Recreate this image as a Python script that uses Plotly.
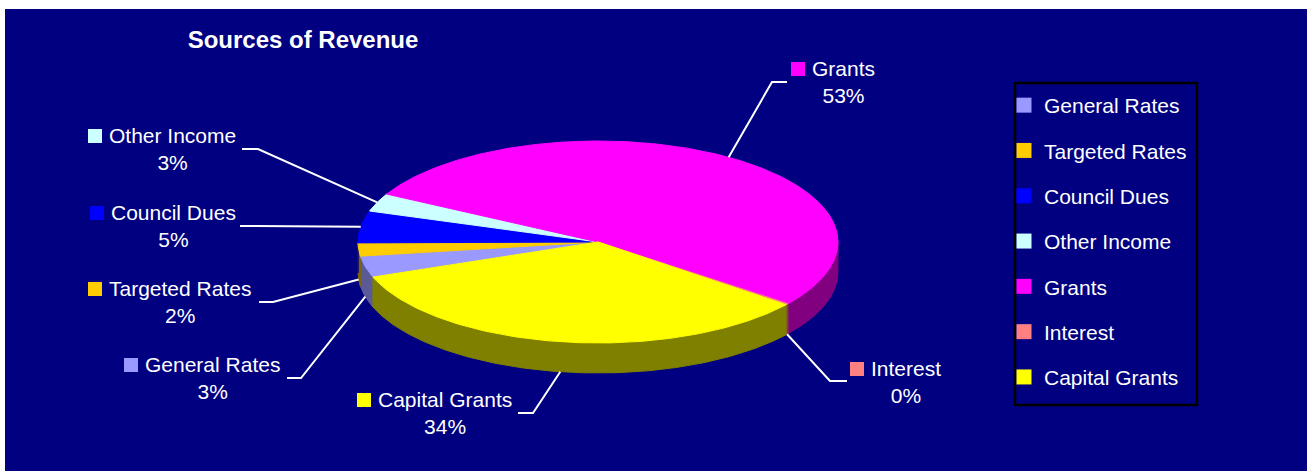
import numpy as np
import plotly.graph_objects as go

# ---------------- data ----------------
CATEGORIES = ["General Rates", "Targeted Rates", "Council Dues", "Other Income",
              "Grants", "Interest", "Capital Grants"]
VALUES = [3.4, 2.1, 5.1, 2.9, 52.6, 0.2, 33.7]
COLORS = ["#9999FF", "#FFCC00", "#0000FF", "#CCFFFF", "#FF00FF", "#FF8080", "#FFFF00"]
SIDE_COLORS = ["#5A5A99", "#806600", "#000080", "#668080", "#800080", "#804040", "#808000"]
TITLE = "Sources of Revenue"

# ---------------- layout geometry (pixels) ----------------
W, H = 1307, 471
CX, CY, RX, RY, DEPTH = 598, 242, 240, 101, 30
START_ANGLE = 159.7  # screen degrees, clockwise from 3 o'clock

LABEL_LEFT = [143, 107, 109, 107, 810, 869, 376]
LABEL_TOP_Y = [364, 288, 212, 135, 68, 368, 399]
STUB_START = [(287, 378), (259, 302), (240, 226), (242, 149), (787, 82), (847, 381), (518, 413)]
STUB_KNEE = [(301, 378), (273, 302), (255, 226), (258, 149), (772, 82), (830, 381), (533, 413)]
LEGEND_BOX = (1015, 83, 1197, 405)

FONT = "Arial, Liberation Sans, sans-serif"
NAVY = "#000080"


def ell(theta_deg, dy=0.0):
    t = np.radians(theta_deg)
    return CX + RX * np.cos(t), CY + RY * np.sin(t) + dy


total = float(sum(VALUES))
spans = [v / total * 360.0 for v in VALUES]
starts = [START_ANGLE + sum(spans[:i]) for i in range(len(VALUES))]

fig = go.Figure()

# side walls (front half of the ellipse)
for i, (a0, sp) in enumerate(zip(starts, spans)):
    a1 = a0 + sp
    for f0, f1 in [(0, 180), (360, 540)]:
        lo, hi = max(a0, f0), min(a1, f1)
        if hi > lo:
            n = max(3, int((hi - lo) * 2))
            th = np.linspace(lo, hi, n)
            xt, yt = ell(th)
            xb, yb = ell(th[::-1], DEPTH)
            fig.add_trace(go.Scatter(
                x=np.concatenate([xt, xb, xt[:1]]), y=np.concatenate([yt, yb, yt[:1]]),
                mode="lines", fill="toself", fillcolor=SIDE_COLORS[i],
                line=dict(color=SIDE_COLORS[i], width=1),
                hoverinfo="skip", showlegend=False))

# top faces
for i, (a0, sp) in enumerate(zip(starts, spans)):
    n = max(3, int(sp * 2))
    th = np.linspace(a0, a0 + sp, n)
    xa, ya = ell(th)
    fig.add_trace(go.Scatter(
        x=np.concatenate([[CX], xa, [CX]]), y=np.concatenate([[CY], ya, [CY]]),
        mode="lines", fill="toself", fillcolor=COLORS[i],
        line=dict(color=COLORS[i], width=1),
        name=CATEGORIES[i], text=f"{CATEGORIES[i]}: {round(VALUES[i])}%",
        hoverinfo="text", showlegend=False))

# leader lines
for i, (a0, sp) in enumerate(zip(starts, spans)):
    mid = a0 + sp / 2
    ex, ey = ell(mid)
    if np.sin(np.radians(mid)) > 0:
        ey += DEPTH
    fig.add_trace(go.Scatter(
        x=[STUB_START[i][0], STUB_KNEE[i][0], ex], y=[STUB_START[i][1], STUB_KNEE[i][1], ey],
        mode="lines", line=dict(color="white", width=2),
        hoverinfo="skip", showlegend=False))

# label colour squares
fig.add_trace(go.Scatter(
    x=[x - 12 for x in LABEL_LEFT], y=[y + 1 for y in LABEL_TOP_Y],
    mode="markers", marker=dict(symbol="square", size=14, color=COLORS, line=dict(width=0)),
    hoverinfo="skip", showlegend=False))

# labels
for i, cat in enumerate(CATEGORIES):
    fig.add_annotation(
        x=LABEL_LEFT[i], y=LABEL_TOP_Y[i] + 13.5, xref="x", yref="y",
        xanchor="left", yanchor="middle", align="center", showarrow=False,
        text=f"{cat}<br>{round(VALUES[i])}%",
        font=dict(family=FONT, size=21, color="white"))

# legend entries
for i, cat in enumerate(CATEGORIES):
    fig.add_trace(go.Scatter(
        x=[None], y=[None], mode="markers", name=cat, legendgroup=cat,
        marker=dict(symbol="square", size=15, color=COLORS[i]),
        showlegend=True))

# legend frame
fig.add_shape(type="rect", xref="x", yref="y",
              x0=LEGEND_BOX[0], y0=LEGEND_BOX[1], x1=LEGEND_BOX[2], y1=LEGEND_BOX[3],
              line=dict(color="black", width=2.5), fillcolor="rgba(0,0,0,0)", layer="above")

fig.update_layout(
    width=W, height=H, autosize=False,
    margin=dict(l=5, r=0, t=9, b=0, pad=0),
    paper_bgcolor="white", plot_bgcolor=NAVY,
    title=dict(text=f"<b>{TITLE}</b>", x=303 / W, y=1 - 40 / H, xanchor="center", yanchor="middle",
               font=dict(family=FONT, size=24, color="white")),
    xaxis=dict(range=[5, W], visible=False, fixedrange=True),
    yaxis=dict(range=[H, 9], visible=False, fixedrange=True),
    legend=dict(x=(1004 - 5) / 1302, y=(H - 85) / 462, xanchor="left", yanchor="top",
                bgcolor="rgba(0,0,0,0)", borderwidth=0,
                font=dict(family=FONT, size=21, color="white"),
                tracegroupgap=15, itemclick=False, itemdoubleclick=False),
    font=dict(family=FONT, color="white"),
    hovermode="closest",
)

fig.write_html("out.html")
